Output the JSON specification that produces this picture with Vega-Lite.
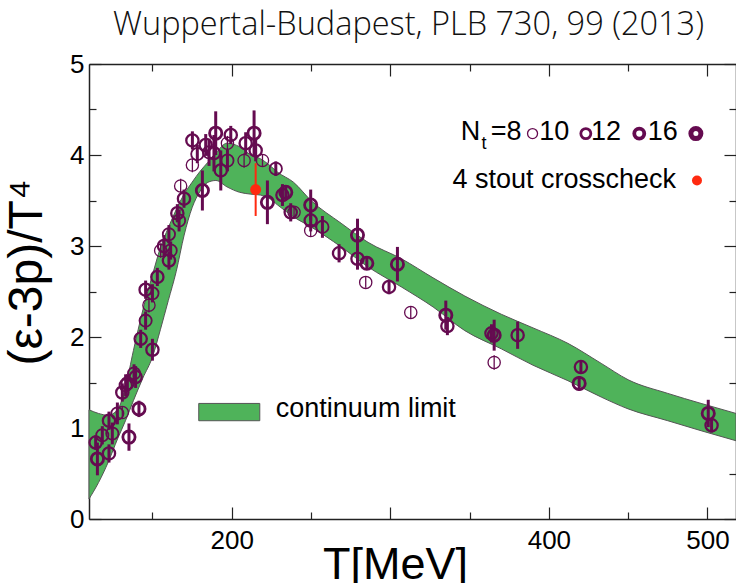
{
  "$schema": "https://vega.github.io/schema/vega-lite/v6.json",
  "autosize": {"type": "none"},
  "padding": {"left": 89, "top": 64, "right": 0, "bottom": 64},
  "width": 647,
  "height": 455,
  "background": "white",
  "title": {"text": "Wuppertal-Budapest, PLB 730, 99 (2013)", "font": "Open Sans", "fontSize": 32.5, "fontWeight": 300, "color": "#111111", "anchor": "middle", "offset": 10, "dx": -4},
  "config": {
    "view": {"stroke": null},
    "axis": {"labelFont": "Liberation Sans", "labelFontSize": 26, "labelColor": "black", "titleFont": "Liberation Sans", "titleFontWeight": "normal", "titleColor": "black", "domainColor": "#222", "domainWidth": 1.5, "tickColor": "#222", "tickWidth": 1.2, "grid": false, "labelOverlap": false}
  },
  "datasets": {
    "band": [
      {"T": 110, "lo": 0.22, "hi": 1.20}, {"T": 116, "lo": 0.40, "hi": 1.16}, {"T": 122, "lo": 0.62, "hi": 1.14},
      {"T": 128, "lo": 0.88, "hi": 1.20}, {"T": 133, "lo": 1.08, "hi": 1.45}, {"T": 138, "lo": 1.30, "hi": 1.85},
      {"T": 144, "lo": 1.55, "hi": 2.30}, {"T": 150, "lo": 1.78, "hi": 2.68}, {"T": 155, "lo": 2.08, "hi": 2.98},
      {"T": 160, "lo": 2.40, "hi": 3.20}, {"T": 165, "lo": 2.72, "hi": 3.40}, {"T": 170, "lo": 3.12, "hi": 3.57},
      {"T": 175, "lo": 3.42, "hi": 3.70}, {"T": 180, "lo": 3.60, "hi": 3.82}, {"T": 185, "lo": 3.70, "hi": 3.92},
      {"T": 190, "lo": 3.72, "hi": 4.02}, {"T": 197, "lo": 3.65, "hi": 4.13}, {"T": 205, "lo": 3.59, "hi": 4.09},
      {"T": 212, "lo": 3.57, "hi": 4.00}, {"T": 218, "lo": 3.56, "hi": 3.96}, {"T": 223, "lo": 3.53, "hi": 3.90},
      {"T": 229, "lo": 3.45, "hi": 3.81}, {"T": 239, "lo": 3.32, "hi": 3.70}, {"T": 250, "lo": 3.21, "hi": 3.50},
      {"T": 269, "lo": 2.99, "hi": 3.25}, {"T": 286, "lo": 2.77, "hi": 3.04}, {"T": 307, "lo": 2.55, "hi": 2.86},
      {"T": 327, "lo": 2.33, "hi": 2.65}, {"T": 347, "lo": 2.07, "hi": 2.45}, {"T": 370, "lo": 1.87, "hi": 2.25},
      {"T": 390, "lo": 1.69, "hi": 2.10}, {"T": 412, "lo": 1.52, "hi": 1.93}, {"T": 433, "lo": 1.34, "hi": 1.71},
      {"T": 450, "lo": 1.21, "hi": 1.53}, {"T": 475, "lo": 1.08, "hi": 1.38}, {"T": 496, "lo": 0.97, "hi": 1.27},
      {"T": 518, "lo": 0.86, "hi": 1.16}
    ],
    "pts": [
      {"T": 115.3, "v": 0.66, "lo": 0.48, "hi": 0.84, "Nt": 16},
      {"T": 114.2, "v": 0.84, "lo": 0.76, "hi": 0.92, "Nt": 12},
      {"T": 118.4, "v": 0.92, "lo": 0.82, "hi": 1.02, "Nt": 10},
      {"T": 122.6, "v": 0.72, "lo": 0.62, "hi": 0.82, "Nt": 12},
      {"T": 124.7, "v": 0.94, "lo": 0.82, "hi": 1.06, "Nt": 10},
      {"T": 122.6, "v": 1.08, "lo": 0.98, "hi": 1.18, "Nt": 12},
      {"T": 127.9, "v": 1.16, "lo": 1.04, "hi": 1.28, "Nt": 10},
      {"T": 131.0, "v": 1.17, "lo": 1.10, "hi": 1.24, "Nt": 8},
      {"T": 135.2, "v": 0.90, "lo": 0.75, "hi": 1.05, "Nt": 16},
      {"T": 141.5, "v": 1.21, "lo": 1.12, "hi": 1.30, "Nt": 16},
      {"T": 131.0, "v": 1.39, "lo": 1.29, "hi": 1.49, "Nt": 12},
      {"T": 133.1, "v": 1.47, "lo": 1.35, "hi": 1.59, "Nt": 10},
      {"T": 139.4, "v": 1.56, "lo": 1.44, "hi": 1.68, "Nt": 12},
      {"T": 134.2, "v": 1.49, "lo": 1.39, "hi": 1.59, "Nt": 12},
      {"T": 138.4, "v": 1.60, "lo": 1.50, "hi": 1.70, "Nt": 10},
      {"T": 142.6, "v": 1.98, "lo": 1.88, "hi": 2.08, "Nt": 12},
      {"T": 150.0, "v": 1.86, "lo": 1.74, "hi": 1.98, "Nt": 12},
      {"T": 145.7, "v": 2.18, "lo": 2.08, "hi": 2.28, "Nt": 10},
      {"T": 147.8, "v": 2.35, "lo": 2.27, "hi": 2.43, "Nt": 8},
      {"T": 145.7, "v": 2.52, "lo": 2.42, "hi": 2.62, "Nt": 12},
      {"T": 150.0, "v": 2.48, "lo": 2.38, "hi": 2.58, "Nt": 10},
      {"T": 153.1, "v": 2.66, "lo": 2.56, "hi": 2.76, "Nt": 12},
      {"T": 155.2, "v": 2.95, "lo": 2.87, "hi": 3.03, "Nt": 8},
      {"T": 157.3, "v": 3.00, "lo": 2.88, "hi": 3.12, "Nt": 12},
      {"T": 161.5, "v": 2.95, "lo": 2.85, "hi": 3.05, "Nt": 10},
      {"T": 160.4, "v": 2.84, "lo": 2.74, "hi": 2.94, "Nt": 12},
      {"T": 160.4, "v": 3.13, "lo": 3.03, "hi": 3.23, "Nt": 10},
      {"T": 165.7, "v": 3.36, "lo": 3.26, "hi": 3.46, "Nt": 12},
      {"T": 166.8, "v": 3.28, "lo": 3.16, "hi": 3.40, "Nt": 10},
      {"T": 169.9, "v": 3.52, "lo": 3.42, "hi": 3.62, "Nt": 12},
      {"T": 167.8, "v": 3.66, "lo": 3.58, "hi": 3.74, "Nt": 8},
      {"T": 181.5, "v": 3.61, "lo": 3.39, "hi": 3.83, "Nt": 16},
      {"T": 175.2, "v": 3.89, "lo": 3.81, "hi": 3.97, "Nt": 8},
      {"T": 175.2, "v": 4.16, "lo": 4.06, "hi": 4.26, "Nt": 12},
      {"T": 178.3, "v": 4.01, "lo": 3.91, "hi": 4.11, "Nt": 10},
      {"T": 183.6, "v": 4.11, "lo": 3.99, "hi": 4.23, "Nt": 12},
      {"T": 185.7, "v": 4.03, "lo": 3.88, "hi": 4.18, "Nt": 10},
      {"T": 188.8, "v": 4.02, "lo": 3.82, "hi": 4.22, "Nt": 12},
      {"T": 189.9, "v": 4.24, "lo": 4.00, "hi": 4.48, "Nt": 16},
      {"T": 193.1, "v": 3.83, "lo": 3.61, "hi": 4.05, "Nt": 12},
      {"T": 197.3, "v": 3.94, "lo": 3.82, "hi": 4.06, "Nt": 10},
      {"T": 199.4, "v": 4.22, "lo": 4.12, "hi": 4.32, "Nt": 12},
      {"T": 197.3, "v": 4.13, "lo": 4.05, "hi": 4.21, "Nt": 8},
      {"T": 208.8, "v": 4.13, "lo": 4.01, "hi": 4.25, "Nt": 12},
      {"T": 207.8, "v": 3.94, "lo": 3.86, "hi": 4.02, "Nt": 8},
      {"T": 214.1, "v": 4.24, "lo": 3.99, "hi": 4.49, "Nt": 16},
      {"T": 215.1, "v": 4.05, "lo": 3.93, "hi": 4.17, "Nt": 12},
      {"T": 219.4, "v": 3.94, "lo": 3.87, "hi": 4.01, "Nt": 8},
      {"T": 227.8, "v": 3.85, "lo": 3.77, "hi": 3.93, "Nt": 10},
      {"T": 222.5, "v": 3.48, "lo": 3.24, "hi": 3.72, "Nt": 16},
      {"T": 232.0, "v": 3.56, "lo": 3.44, "hi": 3.68, "Nt": 12},
      {"T": 234.1, "v": 3.59, "lo": 3.51, "hi": 3.67, "Nt": 16},
      {"T": 237.2, "v": 3.37, "lo": 3.27, "hi": 3.47, "Nt": 12},
      {"T": 239.3, "v": 3.37, "lo": 3.31, "hi": 3.43, "Nt": 8},
      {"T": 249.8, "v": 3.45, "lo": 3.28, "hi": 3.62, "Nt": 16},
      {"T": 249.8, "v": 3.28, "lo": 3.16, "hi": 3.40, "Nt": 12},
      {"T": 249.8, "v": 3.17, "lo": 3.11, "hi": 3.23, "Nt": 8},
      {"T": 257.2, "v": 3.21, "lo": 3.09, "hi": 3.33, "Nt": 10},
      {"T": 267.7, "v": 2.92, "lo": 2.82, "hi": 3.02, "Nt": 12},
      {"T": 279.3, "v": 3.12, "lo": 2.94, "hi": 3.30, "Nt": 16},
      {"T": 279.3, "v": 2.86, "lo": 2.74, "hi": 2.98, "Nt": 12},
      {"T": 285.2, "v": 2.81, "lo": 2.74, "hi": 2.88, "Nt": 16},
      {"T": 284.5, "v": 2.60, "lo": 2.54, "hi": 2.66, "Nt": 8},
      {"T": 299.2, "v": 2.55, "lo": 2.47, "hi": 2.63, "Nt": 12},
      {"T": 304.5, "v": 2.80, "lo": 2.61, "hi": 2.99, "Nt": 16},
      {"T": 312.9, "v": 2.27, "lo": 2.21, "hi": 2.33, "Nt": 8},
      {"T": 335.0, "v": 2.24, "lo": 2.08, "hi": 2.40, "Nt": 16},
      {"T": 336.0, "v": 2.12, "lo": 2.02, "hi": 2.22, "Nt": 12},
      {"T": 365.5, "v": 2.02, "lo": 1.85, "hi": 2.19, "Nt": 16},
      {"T": 363.8, "v": 2.04, "lo": 1.94, "hi": 2.14, "Nt": 12},
      {"T": 365.5, "v": 1.72, "lo": 1.64, "hi": 1.80, "Nt": 8},
      {"T": 380.3, "v": 2.02, "lo": 1.87, "hi": 2.17, "Nt": 12},
      {"T": 420.2, "v": 1.67, "lo": 1.60, "hi": 1.74, "Nt": 12},
      {"T": 419.1, "v": 1.49, "lo": 1.41, "hi": 1.57, "Nt": 16},
      {"T": 500.5, "v": 1.16, "lo": 1.01, "hi": 1.31, "Nt": 16},
      {"T": 502.6, "v": 1.03, "lo": 0.95, "hi": 1.11, "Nt": 12}
    ],
    "check": [{"T": 215.1, "v": 3.62, "lo": 3.33, "hi": 3.91}],
    "one": [{}]
  },
  "resolve": {"axis": {"x": "independent", "y": "independent"}},
  "layer": [
    {
      "data": {"name": "band"},
      "mark": {"type": "area", "interpolate": "monotone", "fill": "#4fb35a", "stroke": "#555555", "strokeWidth": 1, "opacity": 1},
      "encoding": {
        "x": {"field": "T", "type": "quantitative", "scale": {"domain": [110, 518], "nice": false, "zero": false},
          "axis": {"orient": "bottom", "values": [200, 300, 400, 500], "labelExpr": "datum.value == 300 ? '' : datum.label", "tickSize": -12, "labelPadding": 20, "title": "T[MeV]", "titleFontSize": 45, "titleX": 306, "titleY": 59, "titleBaseline": "alphabetic", "titleAlign": "center", "titleAnchor": null}},
        "y": {"field": "lo", "type": "quantitative", "scale": {"domain": [0, 5], "nice": false, "zero": false},
          "axis": {"orient": "left", "values": [0, 1, 2, 3, 4, 5], "tickSize": -12, "labelPadding": 17, "title": "(ε-3p)/T⁴", "titleFontSize": 48, "titleAngle": -90, "titleX": -48, "titleY": 208, "titleBaseline": "alphabetic", "titleAlign": "center", "titleAnchor": null}},
        "y2": {"field": "hi"}
      }
    },
    {
      "data": {"name": "band"},
      "mark": {"type": "area", "opacity": 0},
      "encoding": {
        "x": {"field": "T", "type": "quantitative", "axis": {"orient": "top", "values": [200, 300, 400, 500], "tickSize": -12, "labels": false, "title": null}},
        "y": {"field": "lo", "type": "quantitative", "axis": {"orient": "right", "values": [0, 1, 2, 3, 4, 5], "tickSize": -12, "labels": false, "title": null}},
        "y2": {"field": "hi"}
      }
    },
    {
      "data": {"name": "band"},
      "mark": {"type": "area", "opacity": 0},
      "encoding": {
        "x": {"field": "T", "type": "quantitative", "axis": {"orient": "bottom", "values": [150, 250, 350, 450], "tickSize": -7, "labels": false, "domain": false, "title": null}},
        "y": {"field": "lo", "type": "quantitative", "axis": {"orient": "left", "values": [0.5, 1.5, 2.5, 3.5, 4.5], "tickSize": -7, "labels": false, "domain": false, "title": null}},
        "y2": {"field": "hi"}
      }
    },
    {
      "data": {"name": "band"},
      "mark": {"type": "area", "opacity": 0},
      "encoding": {
        "x": {"field": "T", "type": "quantitative", "axis": {"orient": "top", "values": [150, 250, 350, 450], "tickSize": -7, "labels": false, "domain": false, "title": null}},
        "y": {"field": "lo", "type": "quantitative", "axis": {"orient": "right", "values": [0.5, 1.5, 2.5, 3.5, 4.5], "tickSize": -7, "labels": false, "domain": false, "title": null}},
        "y2": {"field": "hi"}
      }
    },
    {
      "data": {"name": "pts"},
      "mark": {"type": "rule", "color": "#650b50"},
      "encoding": {
        "x": {"field": "T", "type": "quantitative", "axis": null},
        "y": {"field": "lo", "type": "quantitative", "axis": null},
        "y2": {"field": "hi"},
        "strokeWidth": {"condition": {"test": "datum.Nt == 8", "value": 1.3}, "value": 3}
      }
    },
    {
      "data": {"name": "pts"},
      "mark": {"type": "point", "shape": "circle", "filled": false, "size": 150, "color": "#650b50", "opacity": 1},
      "encoding": {
        "x": {"field": "T", "type": "quantitative", "axis": null},
        "y": {"field": "v", "type": "quantitative", "axis": null},
        "strokeWidth": {"field": "Nt", "type": "ordinal", "scale": {"domain": [8, 10, 12, 16], "range": [1.3, 2.8, 3.8, 5]}, "legend": null}
      }
    },
    {
      "data": {"name": "check"},
      "mark": {"type": "rule", "color": "#ff2a10", "strokeWidth": 2},
      "encoding": {
        "x": {"field": "T", "type": "quantitative", "axis": null},
        "y": {"field": "lo", "type": "quantitative", "axis": null},
        "y2": {"field": "hi"}
      }
    },
    {
      "data": {"name": "check"},
      "mark": {"type": "point", "shape": "circle", "filled": true, "size": 120, "color": "#ff2a10", "opacity": 1},
      "encoding": {
        "x": {"field": "T", "type": "quantitative", "axis": null},
        "y": {"field": "v", "type": "quantitative", "axis": null}
      }
    },
    {
      "data": {"name": "one"},
      "mark": {"type": "rect", "fill": "#4fb35a", "stroke": "#555555", "strokeWidth": 1},
      "encoding": {
        "x": {"datum": 179.2, "type": "quantitative", "axis": null},
        "x2": {"datum": 217.7},
        "y": {"datum": 1.08, "type": "quantitative", "axis": null},
        "y2": {"datum": 1.27}
      }
    },
    {
      "data": {"name": "one"},
      "mark": {"type": "text", "text": "continuum limit", "font": "Liberation Sans", "fontSize": 27, "align": "left", "baseline": "alphabetic", "color": "black"},
      "encoding": {
        "x": {"datum": 227.8, "type": "quantitative", "axis": null},
        "y": {"datum": 1.118, "type": "quantitative", "axis": null}
      }
    },
    {
      "data": {"name": "one"},
      "mark": {"type": "text", "text": "N", "font": "Liberation Sans", "fontSize": 27, "align": "left", "baseline": "alphabetic", "color": "black"},
      "encoding": {
        "x": {"datum": 344.5, "type": "quantitative", "axis": null},
        "y": {"datum": 4.16, "type": "quantitative", "axis": null}
      }
    },
    {
      "data": {"name": "one"},
      "mark": {"type": "text", "text": "t", "font": "Liberation Sans", "fontSize": 18, "align": "left", "baseline": "alphabetic", "color": "black"},
      "encoding": {
        "x": {"datum": 357.5, "type": "quantitative", "axis": null},
        "y": {"datum": 4.07, "type": "quantitative", "axis": null}
      }
    },
    {
      "data": {"name": "one"},
      "mark": {"type": "text", "text": "=8", "font": "Liberation Sans", "fontSize": 27, "align": "left", "baseline": "alphabetic", "color": "black"},
      "encoding": {
        "x": {"datum": 363.4, "type": "quantitative", "axis": null},
        "y": {"datum": 4.16, "type": "quantitative", "axis": null}
      }
    },
    {
      "data": {"name": "one"},
      "mark": {"type": "text", "text": "10", "font": "Liberation Sans", "fontSize": 27, "align": "left", "baseline": "alphabetic", "color": "black"},
      "encoding": {
        "x": {"datum": 393.9, "type": "quantitative", "axis": null},
        "y": {"datum": 4.16, "type": "quantitative", "axis": null}
      }
    },
    {
      "data": {"name": "one"},
      "mark": {"type": "text", "text": "12", "font": "Liberation Sans", "fontSize": 27, "align": "left", "baseline": "alphabetic", "color": "black"},
      "encoding": {
        "x": {"datum": 426.5, "type": "quantitative", "axis": null},
        "y": {"datum": 4.16, "type": "quantitative", "axis": null}
      }
    },
    {
      "data": {"name": "one"},
      "mark": {"type": "text", "text": "16", "font": "Liberation Sans", "fontSize": 27, "align": "left", "baseline": "alphabetic", "color": "black"},
      "encoding": {
        "x": {"datum": 462.3, "type": "quantitative", "axis": null},
        "y": {"datum": 4.16, "type": "quantitative", "axis": null}
      }
    },
    {
      "data": {"name": "one"},
      "mark": {"type": "point", "shape": "circle", "filled": false, "size": 100, "color": "#650b50", "opacity": 1, "strokeWidth": 1.3},
      "encoding": {
        "x": {"datum": 389.7, "type": "quantitative", "axis": null},
        "y": {"datum": 4.235, "type": "quantitative", "axis": null}
      }
    },
    {
      "data": {"name": "one"},
      "mark": {"type": "point", "shape": "circle", "filled": false, "size": 100, "color": "#650b50", "opacity": 1, "strokeWidth": 2.8},
      "encoding": {
        "x": {"datum": 423.3, "type": "quantitative", "axis": null},
        "y": {"datum": 4.235, "type": "quantitative", "axis": null}
      }
    },
    {
      "data": {"name": "one"},
      "mark": {"type": "point", "shape": "circle", "filled": false, "size": 100, "color": "#650b50", "opacity": 1, "strokeWidth": 3.8},
      "encoding": {
        "x": {"datum": 457.0, "type": "quantitative", "axis": null},
        "y": {"datum": 4.235, "type": "quantitative", "axis": null}
      }
    },
    {
      "data": {"name": "one"},
      "mark": {"type": "point", "shape": "circle", "filled": false, "size": 100, "color": "#650b50", "opacity": 1, "strokeWidth": 5},
      "encoding": {
        "x": {"datum": 492.7, "type": "quantitative", "axis": null},
        "y": {"datum": 4.235, "type": "quantitative", "axis": null}
      }
    },
    {
      "data": {"name": "one"},
      "mark": {"type": "text", "text": "4 stout crosscheck", "font": "Liberation Sans", "fontSize": 27, "align": "left", "baseline": "alphabetic", "color": "black"},
      "encoding": {
        "x": {"datum": 339.2, "type": "quantitative", "axis": null},
        "y": {"datum": 3.64, "type": "quantitative", "axis": null}
      }
    },
    {
      "data": {"name": "one"},
      "mark": {"type": "point", "shape": "circle", "filled": true, "size": 100, "color": "#ff2a10", "opacity": 1},
      "encoding": {
        "x": {"datum": 493.4, "type": "quantitative", "axis": null},
        "y": {"datum": 3.72, "type": "quantitative", "axis": null}
      }
    }
  ]
}
